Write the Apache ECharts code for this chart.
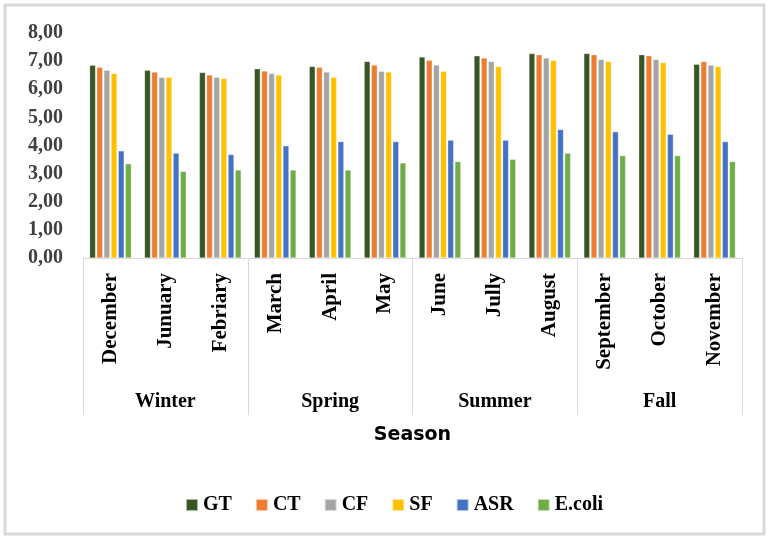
<!DOCTYPE html>
<html>
<head>
<meta charset="utf-8">
<script src="https://cdn.jsdelivr.net/npm/echarts@6/dist/echarts.min.js"></script>
<style>
    html, body { margin: 0; padding: 0; background: #fff; }
    #chart { width: 768px; height: 536px; }
</style>
</head>
<body>
<div id="chart"></div>
<script>
// months on the inner axis, seasons on the outer one
const months = ["December", "Junuary", "Febriary", "March", "April", "May",
    "June", "Jully", "August", "September", "October", "November"];
const seasons = ["Winter", "Spring", "Summer", "Fall"];
const yTicks = [0, 1, 2, 3, 4, 5, 6, 7, 8];

const seriesNames = ["GT", "CT", "CF", "SF", "ASR", "E.coli"];
const colors = ["#375623", "#ED7D31", "#A5A5A5", "#FFC000", "#4472C4", "#70AD47"];

const GT = [6.85, 6.68, 6.60, 6.73, 6.81, 6.99, 7.15, 7.19, 7.27, 7.27, 7.23, 6.89];
const CT = [6.78, 6.61, 6.51, 6.65, 6.78, 6.86, 7.03, 7.11, 7.23, 7.23, 7.19, 6.99];
const CF = [6.68, 6.43, 6.43, 6.56, 6.61, 6.64, 6.86, 6.99, 7.11, 7.06, 7.06, 6.86];
const SF = [6.56, 6.43, 6.38, 6.51, 6.43, 6.61, 6.64, 6.81, 7.03, 6.99, 6.95, 6.81];
const ASR = [3.81, 3.73, 3.68, 3.99, 4.14, 4.14, 4.19, 4.19, 4.57, 4.49, 4.40, 4.14];
const Ecoli = [3.35, 3.08, 3.13, 3.13, 3.13, 3.38, 3.43, 3.51, 3.73, 3.64, 3.64, 3.43];
const values = [GT, CT, CF, SF, ASR, Ecoli];

const serif = "'Liberation Serif', 'Times New Roman', serif";

const chart = echarts.init(document.getElementById("chart"));

const series = seriesNames.map((name, i) => ({
    name: name,
    type: "bar",
    xAxisIndex: 0,
    data: values[i],
    barGap: "20%",
    barCategoryGap: "24%",
    itemStyle: {
        color: colors[i],
        borderColor: "rgba(255,255,255,0.6)",
        borderWidth: 0.5
    }
}));

const option = {
    animation: false,
    backgroundColor: "#fff",
    color: colors,
    grid: { left: 83, right: 26, top: 33, bottom: 278 },
    graphic: [{
        type: "rect",
        shape: { x: 5, y: 5, width: 759, height: 529 },
        style: { fill: "none", stroke: "#d9d9d9", lineWidth: 3 },
        silent: true
    }],
    legend: {
        data: seriesNames,
        left: 180,
        top: 490,
        itemWidth: 12,
        itemHeight: 12,
        itemGap: 23,
        icon: "rect",
        textStyle: {
            fontFamily: serif,
            fontWeight: "bold",
            fontSize: 20,
            color: "#000"
        }
    },
    xAxis: [
        {
            type: "category",
            data: months,
            position: "bottom",
            axisLine: { show: true, lineStyle: { color: "#d9d9d9", width: 1 } },
            axisTick: { show: false },
            axisLabel: {
                interval: 0,
                rotate: 90,
                margin: 15,
                fontFamily: serif,
                fontWeight: "bold",
                fontSize: 21,
                color: "#000"
            },
            splitLine: { show: false }
        },
        {
            type: "category",
            data: seasons,
            position: "bottom",
            axisLine: { show: false },
            axisTick: {
                show: true,
                interval: 0,
                length: 157,
                lineStyle: { color: "#d9d9d9", width: 1 }
            },
            axisLabel: {
                interval: 0,
                margin: 134,
                fontFamily: serif,
                fontWeight: "bold",
                fontSize: 20,
                color: "#000"
            },
            name: "Season",
            nameLocation: "middle",
            nameGap: 168,
            nameTextStyle: {
                fontFamily: "'DejaVu Sans', sans-serif",
                fontWeight: "bold",
                fontSize: 19,
                color: "#000"
            },
            splitLine: { show: false }
        }
    ],
    yAxis: {
        type: "value",
        min: yTicks[0],
        max: yTicks[yTicks.length - 1],
        interval: 1,
        axisLine: { show: false },
        axisTick: { show: false },
        splitLine: { show: false },
        axisLabel: {
            margin: 20,
            fontFamily: serif,
            fontWeight: "bold",
            fontSize: 20,
            color: "#404040",
            formatter: v => v.toFixed(2).replace(".", ",")
        }
    },
    series: series
};

chart.setOption(option);
</script>
</body>
</html>
